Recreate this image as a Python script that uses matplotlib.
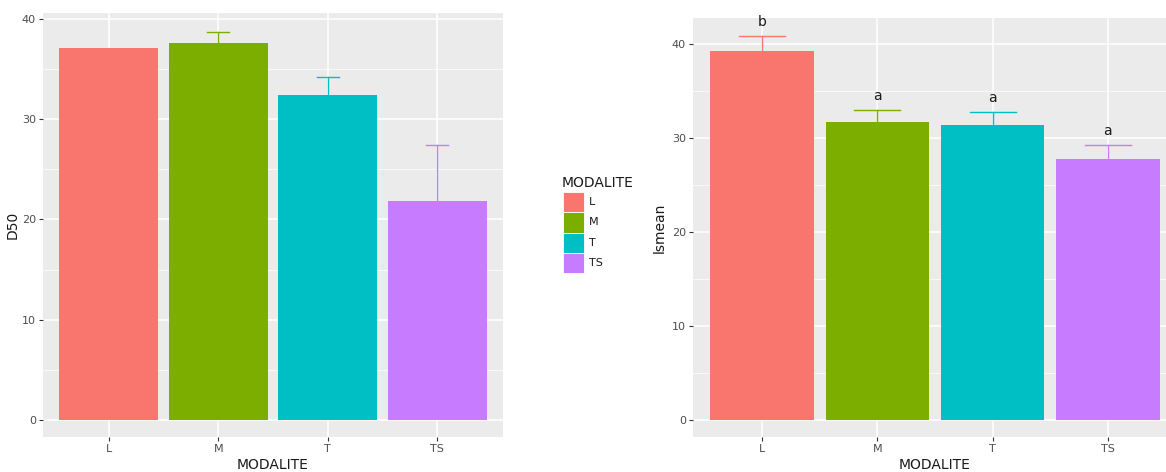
import numpy as np
import matplotlib
matplotlib.use("Agg")
import matplotlib.pyplot as plt
from matplotlib.patches import Rectangle

# data
categories = ["L", "M", "T", "TS"]
colors = ["#F8766D", "#7CAE00", "#00BFC4", "#C77CFF"]

d50 = [37.1, 37.6, 32.4, 21.8]
d50_err = [0.0, 1.1, 1.8, 5.6]

lsmean = [39.3, 31.7, 31.4, 27.8]
lsmean_err = [1.6, 1.35, 1.4, 1.5]
letters = ["b", "a", "a", "a"]

W, H = 1166, 472
fig = plt.figure(figsize=(W / 100, H / 100), dpi=100)


def px_axes(left, top, right, bottom):
    return fig.add_axes([left / W, 1 - bottom / H, (right - left) / W, (bottom - top) / H])


def style_axes(ax, ylim):
    ax.set_facecolor("#EBEBEB")
    for s in ax.spines.values():
        s.set_visible(False)
    ax.set_xlim(0.4, 4.6)
    ax.set_ylim(*ylim)
    ax.set_xticks(range(1, 5))
    ax.set_xticklabels(categories)
    ax.set_yticks([0, 10, 20, 30, 40])
    ax.set_yticks([5, 15, 25, 35], minor=True)
    ax.tick_params(which="major", length=3, width=0.8, color="#333333",
                   labelsize=8, labelcolor="#4D4D4D", pad=2)
    ax.tick_params(which="minor", length=0)
    ax.grid(which="major", color="white", lw=1.1)
    ax.grid(which="minor", axis="y", color="white", lw=0.5)
    ax.set_axisbelow(True)
    ax.set_xlabel("MODALITE", fontsize=10, color="#1A1A1A", labelpad=3)


def draw_bars(ax, vals, errs, cap):
    x = np.arange(1, 5)
    for xi, v, e, c in zip(x, vals, errs, colors):
        if e > 0:
            ax.plot([xi, xi], [v, v + e], color=c, lw=1, zorder=2)
            ax.plot([xi - cap / 2, xi + cap / 2], [v + e, v + e], color=c, lw=1, zorder=2)
    ax.bar(x, vals, width=0.9, color=colors, zorder=3)


# left panel
ax1 = px_axes(43, 13, 503, 437)
draw_bars(ax1, d50, d50_err, 0.2)
style_axes(ax1, (-1.7, 40.6))
ax1.set_ylabel("D50", fontsize=10, color="#1A1A1A", labelpad=2)

# right panel (runs past the right edge, as in the cropped original)
ax2 = px_axes(693, 18, 1177, 437)
draw_bars(ax2, lsmean, lsmean_err, 0.4)
style_axes(ax2, (-1.77, 42.8))
ax2.set_ylabel("lsmean", fontsize=10, color="#1A1A1A", labelpad=4)
for xi, v, e, t in zip(range(1, 5), lsmean, lsmean_err, letters):
    ax2.text(xi, v + e + 0.7, t, ha="center", va="bottom", fontsize=10, color="#1A1A1A")

# legend, drawn by hand in pixel coordinates
fig.text(562 / W, 1 - 183 / H, "MODALITE", fontsize=10, color="#1A1A1A", va="center", ha="left")
key_h = 20.3
for i, (c, lab) in enumerate(zip(colors, categories)):
    top = 192 + i * key_h
    fig.add_artist(Rectangle((563 / W, 1 - (top + key_h) / H), 21 / W, key_h / H,
                             transform=fig.transFigure, facecolor=c,
                             edgecolor="white", lw=0.6))
    fig.text(589 / W, 1 - (top + key_h / 2) / H, lab, fontsize=8, color="#1A1A1A",
             va="center", ha="left")

fig.savefig("out.png", dpi=100)
